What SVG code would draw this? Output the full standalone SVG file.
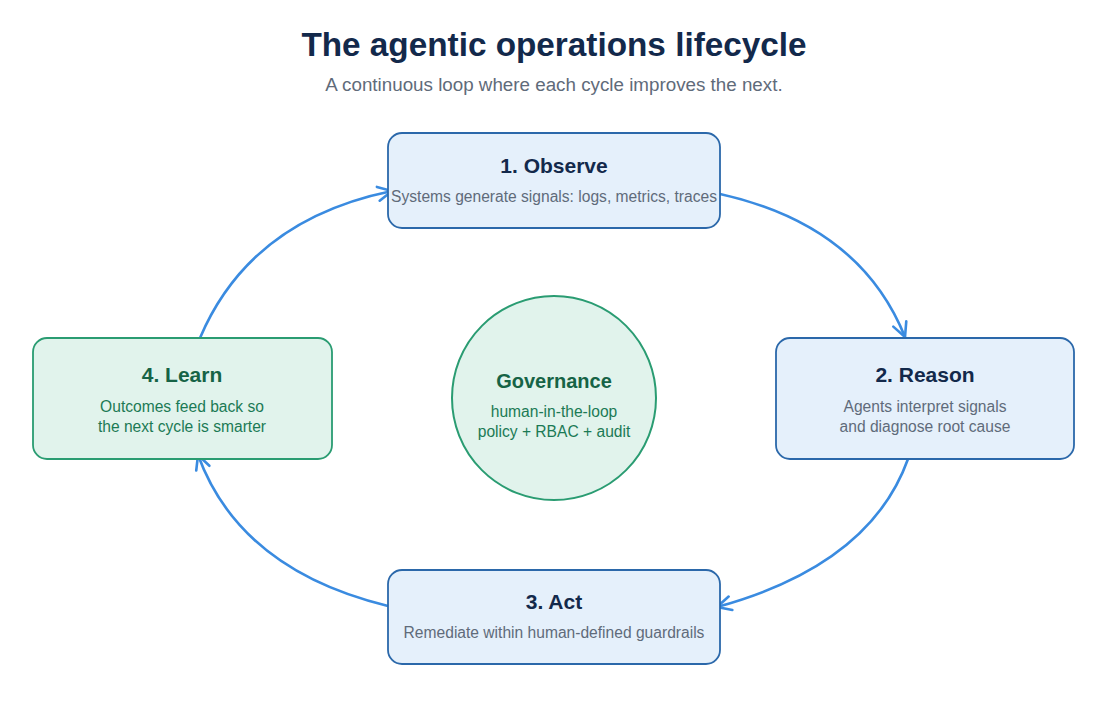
<svg xmlns="http://www.w3.org/2000/svg" width="1108" height="709" viewBox="0 0 1108 709">
<style>
text{font-family:"Liberation Sans",Arial,sans-serif;text-anchor:middle}
.title{font-size:33.3px;font-weight:bold;fill:#13294b}
.sub{font-size:18.8px;fill:#5f6b7a}
.box{fill:#e5f0fb;stroke:#2b68aa;stroke-width:1.8}
.gbox{fill:#e1f3ec;stroke:#2a9c72;stroke-width:1.8}
.h{font-size:21px;font-weight:bold;fill:#13294b}
.b{font-size:15.6px;fill:#5f6b7a}
.gh{font-size:21px;font-weight:bold;fill:#166346}
.gb{font-size:15.6px;fill:#1b7a55}
.edge{fill:none;stroke:#3a8be0;stroke-width:2.6;marker-end:url(#arr)}
</style>
<defs>
<marker id="arr" markerUnits="userSpaceOnUse" markerWidth="20" markerHeight="20" viewBox="0 0 20 20" refX="17" refY="10" orient="auto">
<path d="M3,3 L17,10 L3,17" fill="none" stroke="#3a8be0" stroke-width="2.6" stroke-linecap="round"/>
</marker>
</defs>
<text class="title" x="554" y="56">The agentic operations lifecycle</text>
<text class="sub" x="554" y="91">A continuous loop where each cycle improves the next.</text>
<g id="connectors">
<path class="edge" d="M720,194 Q860,225 905,337"/>
<path class="edge" d="M908,459 Q870,565 717,607"/>
<path class="edge" d="M388,606 Q240,570 198,455"/>
<path class="edge" d="M200,338 Q250,220 392,191"/>
</g>
<g id="observe">
<rect class="box" x="388" y="133" width="332" height="95" rx="14"/>
<text class="h" x="554" y="173">1. Observe</text>
<text class="b" x="554" y="202">Systems generate signals: logs, metrics, traces</text>
</g>
<g id="reason">
<rect class="box" x="776" y="338" width="298" height="121" rx="14"/>
<text class="h" x="925" y="382">2. Reason</text>
<text class="b" x="925" y="412">Agents interpret signals</text>
<text class="b" x="925" y="432">and diagnose root cause</text>
</g>
<g id="act">
<rect class="box" x="388" y="570" width="332" height="94" rx="14"/>
<text class="h" x="554" y="609">3. Act</text>
<text class="b" x="554" y="638">Remediate within human-defined guardrails</text>
</g>
<g id="learn">
<rect class="gbox" x="33" y="338" width="299" height="121" rx="14"/>
<text class="gh" x="182" y="382">4. Learn</text>
<text class="gb" x="182" y="412">Outcomes feed back so</text>
<text class="gb" x="182" y="432">the next cycle is smarter</text>
</g>
<g id="governance">
<circle cx="554" cy="398" r="102" fill="#e1f3ec" stroke="#2a9c72" stroke-width="2"/>
<text class="gh" x="554" y="388" style="font-size:20px">Governance</text>
<text class="gb" x="554" y="417">human-in-the-loop</text>
<text class="gb" x="554" y="437">policy + RBAC + audit</text>
</g>
</svg>
